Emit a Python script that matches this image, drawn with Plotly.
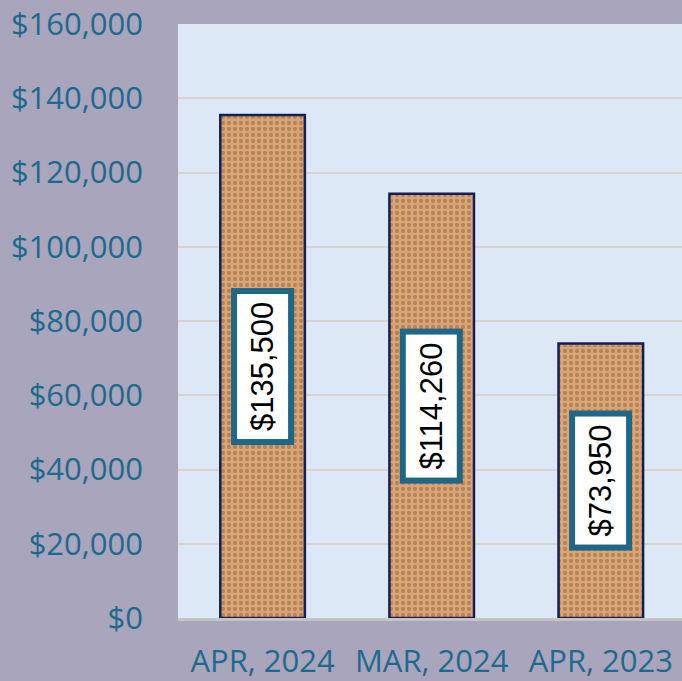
import plotly.graph_objects as go

categories = ["APR, 2024", "MAR, 2024", "APR, 2023"]
values = [135500, 114260, 73950]
tick_vals = [0, 20000, 40000, 60000, 80000, 100000, 120000, 140000, 160000]
tick_text = ["$0", "$20,000", "$40,000", "$60,000", "$80,000", "$100,000", "$120,000", "$140,000", "$160,000"]

TEAL = "#1E6A8C"

fig = go.Figure()
fig.add_trace(go.Bar(
    x=categories, y=values, width=0.5,
    marker=dict(
        color="#CF9C6C",
        line=dict(color="#131E58", width=2.5),
        pattern=dict(shape=".", fgcolor="#9A6233", bgcolor="#D8A676", size=6, solidity=0.4),
    ),
    hoverinfo="skip",
))

for c, v in zip(categories, values):
    fig.add_annotation(
        x=c, y=v / 2, text="${:,.0f}".format(v), textangle=-90, showarrow=False,
        font=dict(family="Liberation Sans", size=31, color="black"),
        bgcolor="white", bordercolor="#1F6688", borderwidth=6, borderpad=8,
    )

fig.update_layout(
    width=682, height=681,
    margin=dict(l=178, r=0, t=24, b=63),
    paper_bgcolor="#A9A5BC",
    plot_bgcolor="#DCE8F5",
    showlegend=False,
)
fig.update_yaxes(
    range=[0, 160000], tickvals=tick_vals, ticktext=tick_text,
    tickfont=dict(family="Open Sans", size=31, color=TEAL),
    gridcolor="#D8D2D2", gridwidth=2, zeroline=False, ticklabelstandoff=34,
    showline=False, automargin=False,
)
fig.update_xaxes(
    range=[-0.5, 2.48],
    tickfont=dict(family="Open Sans", size=31, color=TEAL),
    showline=True, linecolor="#C4C4C8", linewidth=3, ticklabelstandoff=14,
    automargin=False,
)

fig.write_html("out.html")
